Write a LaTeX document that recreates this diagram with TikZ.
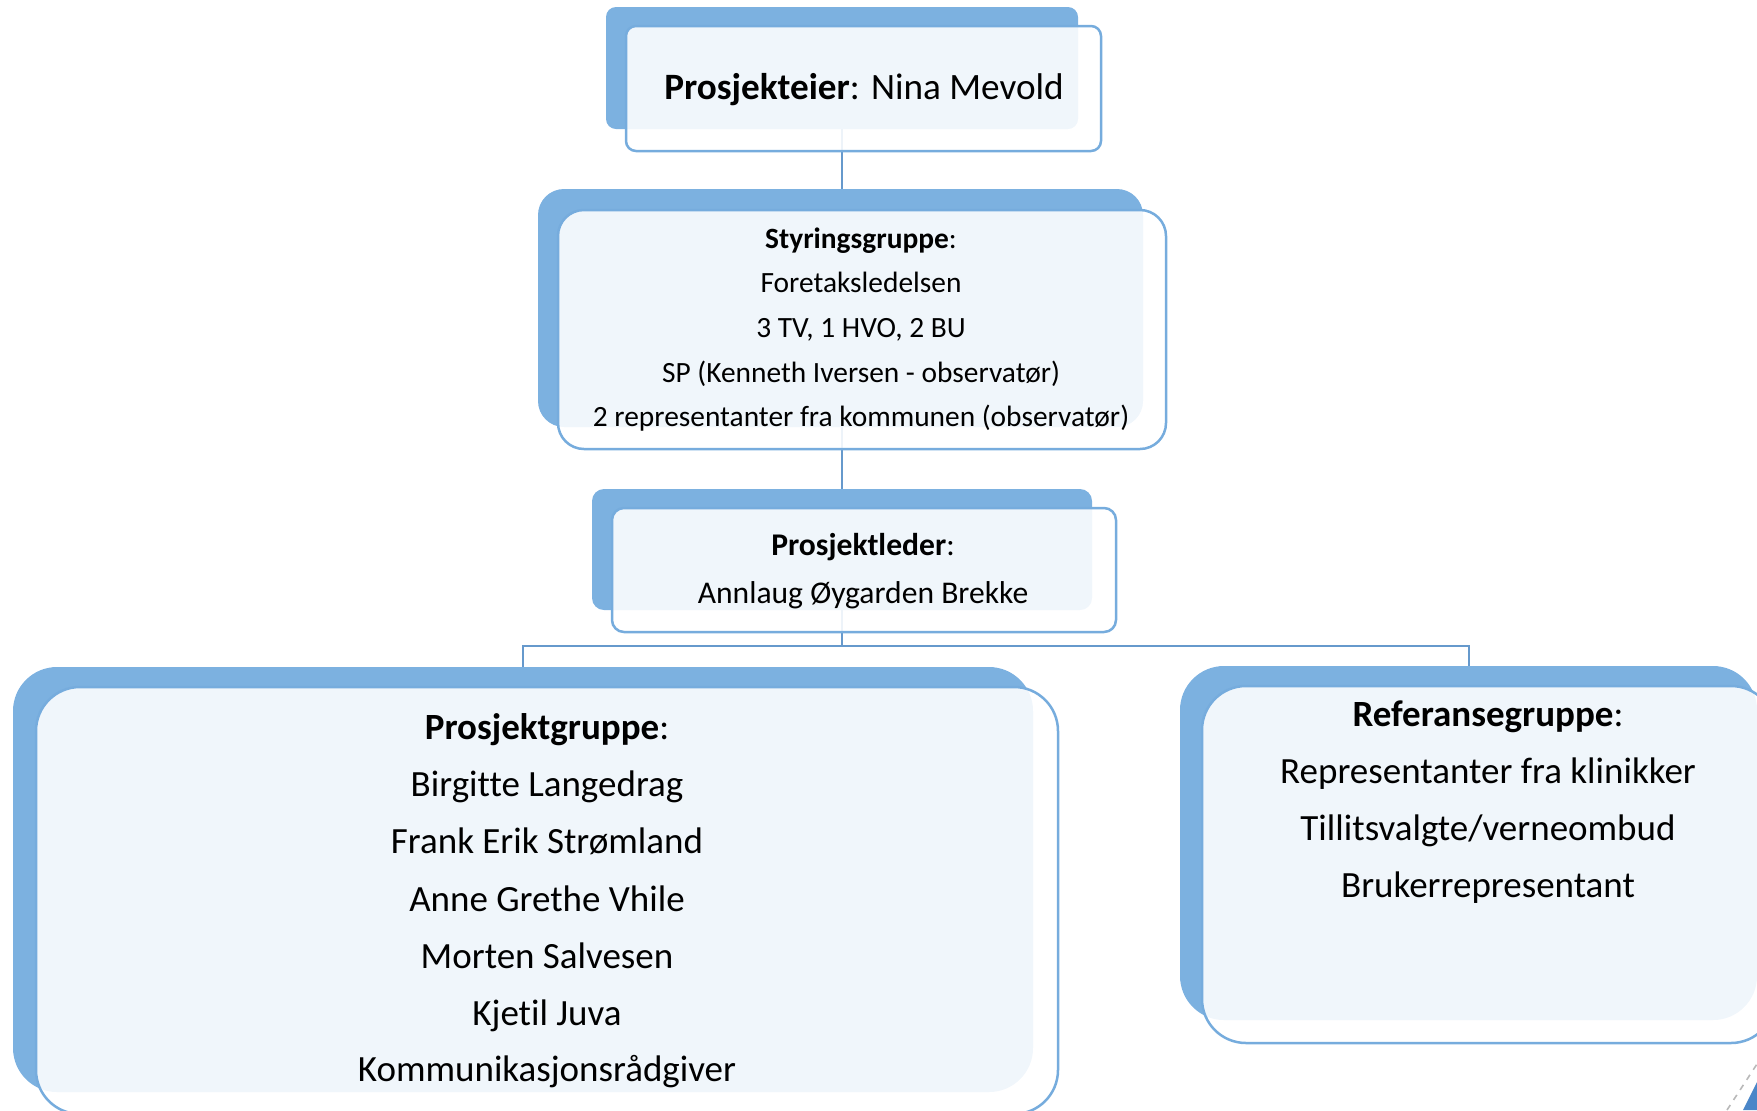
\documentclass[tikz,border=0pt]{standalone}
\usepackage{fontspec}
\setmainfont{Carlito}[Ligatures={NoCommon}]
\usetikzlibrary{fit}
\definecolor{bblue}{HTML}{7CB1E0}
\definecolor{lblue}{HTML}{76ACDD}
\definecolor{cblue}{HTML}{6699CC}
\definecolor{dblue}{HTML}{4A86C8}
\pgfdeclarelayer{back}
\pgfsetlayers{back,main}
\newcommand\fsz[1]{\fontsize{#1}{#1}\selectfont}
\begin{document}
\begin{tikzpicture}[x=0.5pt,y=-0.5pt,
  backbox/.style={fill=bblue,draw=none,inner sep=0pt},
  frontbox/.style={fill=white,fill opacity=0.886,draw=lblue,draw opacity=1,line width=1.25pt,inner sep=0pt},
  conn/.style={draw=cblue,line width=1pt},
  txt/.style={inner sep=0pt,anchor=base,text=black}]
\useasboundingbox (0,0) rectangle (1757,1110);

% front boxes (main layer)
\node (f1) [frontbox,rounded corners=5pt,fit={(626,26) (1101,151)}] {};
\node (f2) [frontbox,rounded corners=13pt,fit={(558,210) (1166,449)}] {};
\node (f3) [frontbox,rounded corners=6pt,fit={(612,508) (1116,632)}] {};
\node (f4) [frontbox,rounded corners=22pt,fit={(36,687) (1058,1114)}] {};
\node (f5) [frontbox,rounded corners=22pt,fit={(1202,686) (1775,1043)}] {};

\begin{pgfonlayer}{back}
\node (b1) [backbox,rounded corners=5pt,fit={(606,7) (1078,129)}] {};
\node (b2) [backbox,rounded corners=13pt,fit={(538,189) (1143,427)}] {};
\node (b3) [backbox,rounded corners=6pt,fit={(592,489) (1092,610)}] {};
\node (b4) [backbox,rounded corners=22pt,fit={(13,667) (1033,1092)}] {};
\node (b5) [backbox,rounded corners=22pt,fit={(1180,666) (1757,1020)}] {};
\coordinate (split) at (842,646);
\draw[conn] (b1.south) -- (b1.south |- b2.north);
\draw[conn] (b2.south -| b1.south) -- (b3.north);
\draw[conn] (b3.south) -- (split);
\draw[conn] (split) -| (b4.north);
\draw[conn] (split) -| (b5.north);
\end{pgfonlayer}

% texts
\node[txt,font=\fsz{18.6}] (t1) at (864,99) {\textbf{Prosjekteier}: Nina Mevold};

\node[txt,font=\fsz{14.7}] (s1) at (861,248) {\textbf{Styringsgruppe}:};
\node[txt,font=\fsz{14.7}] (s2) at (861,292) {Foretaksledelsen};
\node[txt,font=\fsz{14.7}] (s3) at (861,337) {3 TV, 1 HVO, 2 BU};
\node[txt,font=\fsz{14.7}] (s4) at (861,382) {SP (Kenneth Iversen - observatør)};
\node[txt,font=\fsz{14.7}] (s5) at (861,426) {2 representanter fra kommunen (observatør)};

\node[txt,font=\fsz{15.8}] (l1) at (863,555) {\textbf{Prosjektleder}:};
\node[txt,font=\fsz{15.8}] (l2) at (863,603) {Annlaug Øygarden Brekke};

\node[txt,font=\fsz{18.5}] (g1) at (547,739) {\textbf{Prosjektgruppe}:};
\node[txt,font=\fsz{18.5}] (g2) at (547,796) {Birgitte Langedrag};
\node[txt,font=\fsz{18.5}] (g3) at (547,853) {Frank Erik Strømland};
\node[txt,font=\fsz{18.5}] (g4) at (547,911) {Anne Grethe Vhile};
\node[txt,font=\fsz{18.5}] (g5) at (547,968) {Morten Salvesen};
\node[txt,font=\fsz{18.5}] (g6) at (547,1025) {Kjetil Juva};
\node[txt,font=\fsz{18.5}] (g7) at (547,1081) {Kommunikasjonsrådgiver};

\node[txt,font=\fsz{18.5}] (r1) at (1488,726) {\textbf{Referansegruppe}:};
\node[txt,font=\fsz{18.5}] (r2) at (1488,783) {Representanter fra klinikker};
\node[txt,font=\fsz{18.5}] (r3) at (1488,840) {Tillitsvalgte/verneombud};
\node[txt,font=\fsz{18.5}] (r4) at (1488,897) {Brukerrepresentant};

% cut-off decoration in the corner
\fill[dblue] (1743,1110) -- (1757,1082) -- (1757,1110) -- cycle;
\draw[gray!55,dashed,line width=0.8pt] (1727,1110) -- (1757,1064);
\end{tikzpicture}
\end{document}
